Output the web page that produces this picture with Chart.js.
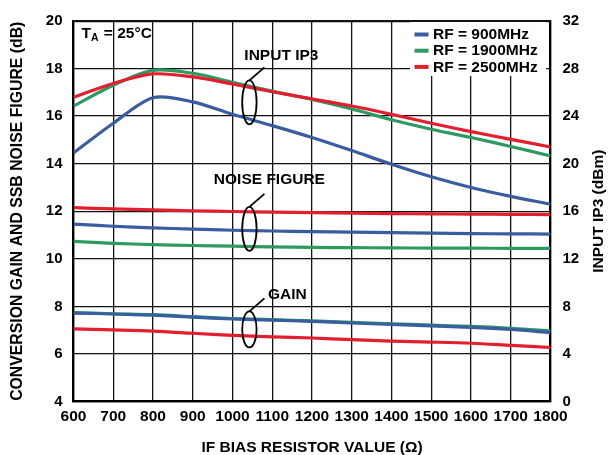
<!DOCTYPE html>
<html>
<head>
<meta charset="utf-8">
<script src="https://cdn.jsdelivr.net/npm/chart.js@4/dist/chart.umd.min.js"></script>
<style>
  body { margin: 0; background: #fff; }
  #wrap { width: 613px; height: 455px; }
</style>
</head>
<body>
<div id="wrap"><canvas id="ifBiasChart" width="613" height="455"></canvas></div>
<script>
// IF bias resistor sweep (ohms)
const resistor = [600, 700, 800, 900, 1000, 1100, 1200, 1300, 1400, 1500, 1600, 1700, 1800];

// Input IP3 (dBm), right axis
const ip3_900 = [20.9, 23.4, 25.55, 25.2, 24.15, 23.2, 22.2, 21.1, 19.95, 18.9, 18.0, 17.25, 16.6];
const ip3_1900 = [24.85, 26.6, 27.85, 27.6, 26.85, 26.1, 25.4, 24.6, 23.7, 22.9, 22.2, 21.45, 20.65];
const ip3_2500 = [25.6, 26.75, 27.55, 27.3, 26.7, 26.05, 25.45, 24.85, 24.15, 23.4, 22.7, 22.05, 21.4];

// SSB noise figure (dB), left axis
const nf_900 = [11.46, 11.37, 11.3, 11.25, 11.2, 11.17, 11.14, 11.12, 11.1, 11.08, 11.06, 11.05, 11.04];
const nf_1900 = [10.73, 10.65, 10.6, 10.56, 10.53, 10.5, 10.48, 10.47, 10.46, 10.45, 10.45, 10.44, 10.44];
const nf_2500 = [12.15, 12.1, 12.06, 12.02, 11.99, 11.96, 11.94, 11.92, 11.9, 11.89, 11.88, 11.87, 11.86];

// Conversion gain (dB), left axis
const gain_900 = [7.72, 7.68, 7.63, 7.55, 7.47, 7.42, 7.37, 7.3, 7.24, 7.18, 7.12, 7.03, 6.9];
const gain_1900 = [7.74, 7.69, 7.65, 7.57, 7.49, 7.44, 7.39, 7.33, 7.27, 7.21, 7.16, 7.08, 6.97];
const gain_2500 = [7.05, 7.01, 6.96, 6.87, 6.78, 6.72, 6.67, 6.6, 6.54, 6.5, 6.45, 6.36, 6.27];

const legendLabels = ['RF = 900MHz', 'RF = 1900MHz', 'RF = 2500MHz'];
const xTicks = resistor;
const leftTicks = [4, 6, 8, 10, 12, 14, 16, 18, 20];
const rightTicks = [0, 4, 8, 12, 16, 20, 24, 28, 32];

const colors = ['#3a5da0', '#2e9a62', '#e21f2f'];
const FONT = '"Liberation Sans", Arial, sans-serif';

function toPoints(ys) {
    return ys.map(function (y, i) { return { x: resistor[i], y: y }; });
}

// colour index, values, axis; order keeps blue on top, green at the bottom
function series(c, ys, axis) {
    return {
        data: toPoints(ys),
        yAxisID: axis,
        borderColor: colors[c],
        borderWidth: 3.2,
        pointRadius: 0,
        tension: 0.3,
        fill: false,
        order: [0, 2, 1][c]
    };
}

const datasets = [
    series(0, ip3_900, 'y1'), series(1, ip3_1900, 'y1'), series(2, ip3_2500, 'y1'),
    series(0, nf_900, 'y'), series(1, nf_1900, 'y'), series(2, nf_2500, 'y'),
    series(0, gain_900, 'y'), series(1, gain_1900, 'y'), series(2, gain_2500, 'y')
];

// callouts: anchor in data units (left axis), ellipse size in px
const callouts = [
    { text: 'INPUT IP3', x: 1040, y: 16.58, ry: 22, dx: 32, dy: -47 },
    { text: 'NOISE FIGURE', x: 1040, y: 11.26, ry: 22, dx: 20, dy: -49 },
    { text: 'GAIN', x: 1040, y: 7.03, ry: 18, dx: 38, dy: -35 }
];

const ticksFromList = function (list) {
    return function (s) { s.ticks = list.map(function (v) { return { value: v }; }); };
};

const overlay = {
    id: 'overlay',
    afterDatasetsDraw: function (chart) {
        const ctx = chart.ctx;
        const xs = chart.scales.x, ys = chart.scales.y;
        const area = chart.chartArea;
        ctx.save();

        // ellipses, leaders, labels
        ctx.strokeStyle = '#000';
        ctx.lineWidth = 1.8;
        ctx.fillStyle = '#000';
        ctx.font = 'bold 15.5px ' + FONT;
        ctx.textAlign = 'center';
        ctx.textBaseline = 'middle';
        callouts.forEach(function (c) {
            const cx = xs.getPixelForValue(c.x) + 1;
            const cy = ys.getPixelForValue(c.y);
            ctx.beginPath();
            ctx.ellipse(cx, cy, 7.2, c.ry, 0, 0, Math.PI * 2);
            ctx.stroke();
            ctx.beginPath();
            ctx.moveTo(cx, cy - c.ry);
            ctx.lineTo(cx + 15, cy - c.ry - 13);
            ctx.stroke();
            ctx.fillText(c.text, cx + c.dx, cy + c.dy);
        });

        // T_A = 25°C
        ctx.textAlign = 'left';
        ctx.font = 'bold 15.5px ' + FONT;
        ctx.fillText('T', area.left + 8, area.top + 13);
        let w = ctx.measureText('T').width;
        ctx.font = 'bold 10.5px ' + FONT;
        ctx.fillText('A', area.left + 8 + w, area.top + 17);
        w += ctx.measureText('A').width;
        ctx.font = 'bold 15.5px ' + FONT;
        ctx.fillText(' = 25°C', area.left + 9 + w, area.top + 13);

        // legend box
        const lx = 410, ly = 22;
        ctx.fillStyle = '#fff';
        ctx.fillRect(lx, ly, 136, 54);
        legendLabels.forEach(function (label, i) {
            const yy = ly + 12.5 + i * 16.2;
            ctx.fillStyle = colors[i];
            ctx.fillRect(lx + 4.5, yy - 2, 14, 4);
            ctx.fillStyle = '#000';
            ctx.font = 'bold 15.5px ' + FONT;
            ctx.fillText(label, lx + 23, yy + 0.5);
        });

        // right axis title reads bottom-to-top
        ctx.translate(599, (area.top + area.bottom) / 2);
        ctx.rotate(-Math.PI / 2);
        ctx.textAlign = 'center';
        ctx.fillStyle = '#000';
        ctx.font = 'bold 15.5px ' + FONT;
        ctx.fillText('INPUT IP3 (dBm)', 0, 0);
        ctx.restore();
    }
};

const gridWidth = function (edge) {
    return function (c) { return c.tick && c.tick.value === edge ? 2.2 : 1.3; };
};

const ctx = document.getElementById('ifBiasChart').getContext('2d');
const chart = new Chart(ctx, {
    type: 'line',
    data: { datasets: datasets },
    options: {
        responsive: false,
        animation: false,
        layout: { padding: { top: 20, left: 0, right: 0, bottom: 0 } },
        plugins: { legend: { display: false }, tooltip: { enabled: false } },
        scales: {
            x: {
                type: 'linear',
                min: 600, max: 1800,
                afterFit: function (s) { s.height = 53.5; },
                afterBuildTicks: ticksFromList(xTicks),
                ticks: {
                    autoSkip: false, padding: 6, color: '#000', maxRotation: 0,
                    callback: function (v) { return String(v); },
                    font: { family: FONT, size: 15.5, weight: 'bold' }
                },
                grid: { color: '#111', lineWidth: gridWidth(1800), drawTicks: false },
                border: { color: '#000', width: 2.2 },
                title: {
                    display: true, text: 'IF BIAS RESISTOR VALUE (Ω)', color: '#000',
                    font: { family: FONT, size: 15.5, weight: 'bold' },
                    padding: { top: 0, bottom: -2 }
                }
            },
            y: {
                position: 'left',
                min: 4, max: 20,
                afterFit: function (s) { s.width = 73.5; },
                afterBuildTicks: ticksFromList(leftTicks),
                ticks: {
                    padding: 11, color: '#000',
                    font: { family: FONT, size: 15, weight: 'bold' }
                },
                grid: { color: '#111', lineWidth: gridWidth(20), drawTicks: false },
                border: { color: '#000', width: 2.2 },
                title: {
                    display: true, text: 'CONVERSION GAIN AND SSB NOISE FIGURE (dB)', color: '#000',
                    font: { family: FONT, size: 15.8, weight: 'bold' },
                    padding: { top: 8, bottom: 0 }
                }
            },
            y1: {
                position: 'right',
                min: 0, max: 32,
                afterFit: function (s) { s.width = 62.5; },
                afterBuildTicks: ticksFromList(rightTicks),
                ticks: {
                    padding: 12, color: '#000',
                    font: { family: FONT, size: 15, weight: 'bold' }
                },
                grid: { display: false, drawTicks: false },
                border: { color: '#000', width: 2.2 }
            }
        }
    },
    plugins: [overlay]
});
</script>
</body>
</html>
